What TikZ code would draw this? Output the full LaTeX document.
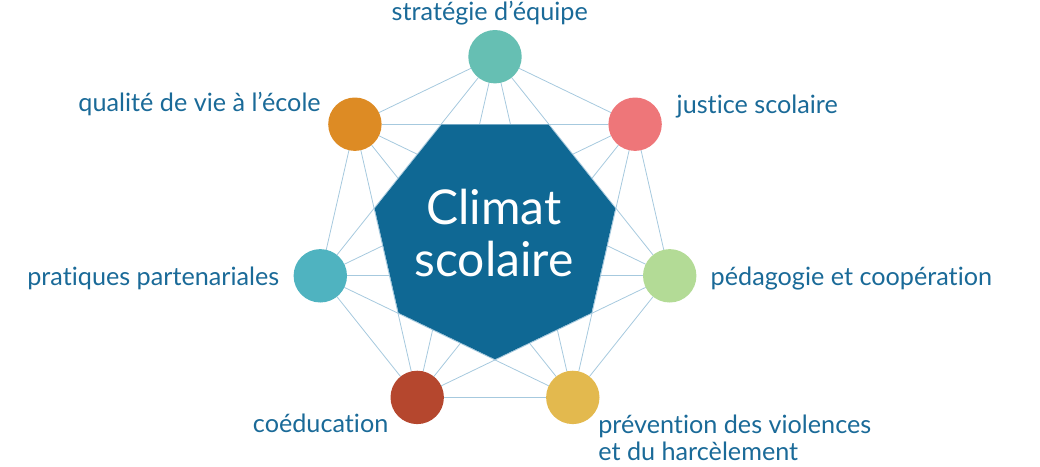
\documentclass[tikz,border=0pt]{standalone}
\usepackage{fontspec}
\setmainfont{Lato}[Ligatures=NoCommon]
\usetikzlibrary{shapes.geometric,backgrounds}
\definecolor{txt}{HTML}{1A6A98}
\definecolor{hept}{HTML}{0F6894}
\definecolor{linkc}{HTML}{A6C9DE}
\definecolor{cA}{HTML}{66BFB3}
\definecolor{cB}{HTML}{EE7679}
\definecolor{cC}{HTML}{B3DB96}
\definecolor{cD}{HTML}{E3B94E}
\definecolor{cE}{HTML}{B5472E}
\definecolor{cF}{HTML}{4FB3C0}
\definecolor{cG}{HTML}{DD8B24}
\begin{document}
\begin{tikzpicture}[x=1pt,y=-1pt,
  dot/.style={circle,minimum size=53.4pt,inner sep=0pt,outer sep=0pt},
  lbl/.style={text=txt,font=\fontsize{25.2}{26.7}\selectfont,inner sep=0pt,outer sep=0pt},
  link/.style={draw=linkc,line width=0.8pt},
  centre/.style={regular polygon,regular polygon sides=7,shape border rotate=180,
    minimum size=246.8pt,inner sep=0pt,outer sep=0pt,fill=hept}]
\useasboundingbox (0,0) rectangle (1040,466);
% circles
\node[dot,fill=cA] (n0) at (495,56.7) {};
\node[dot,fill=cB] (n1) at (635.1,124.2) {};
\node[dot,fill=cC] (n2) at (669.7,275.8) {};
\node[dot,fill=cD] (n3) at (572.8,397.4) {};
\node[dot,fill=cE] (n4) at (417.2,397.4) {};
\node[dot,fill=cF] (n5) at (320.3,275.8) {};
\node[dot,fill=cG] (n6) at (354.9,124.2) {};
% connectors
\begin{scope}[on background layer]
\foreach \i [evaluate=\i as \s using int(\i+1)] in {0,...,5}{
  \foreach \j in {\s,...,6}{
    \draw[link] (n\i) -- (n\j);
  }
}
\end{scope}
% central heptagon
\node[centre] (hep) at (495,235.9) {};
\node[text=white,font=\fontsize{48}{52.7}\selectfont,align=center,anchor=base,inner sep=0pt] (title) at (494,276.7) {Climat\\scolaire};
% labels
\node[lbl,anchor=base west] (l0) at (391.7,20) {stratégie d’équipe};
\node[lbl,anchor=base west] (l1) at (676.7,113.3) {justice scolaire};
\node[lbl,anchor=base west] (l2) at (710.7,285) {pédagogie et coopération};
\node[lbl,anchor=base west,align=left] (l3) at (598.3,460) {prévention des violences\\et du harcèlement};
\node[lbl,anchor=base east] (l4) at (388.3,432.7) {coéducation};
\node[lbl,anchor=base east] (l5) at (279.3,285) {pratiques partenariales};
\node[lbl,anchor=base east] (l6) at (320.7,111) {qualité de vie à l’école};
\end{tikzpicture}
\end{document}
